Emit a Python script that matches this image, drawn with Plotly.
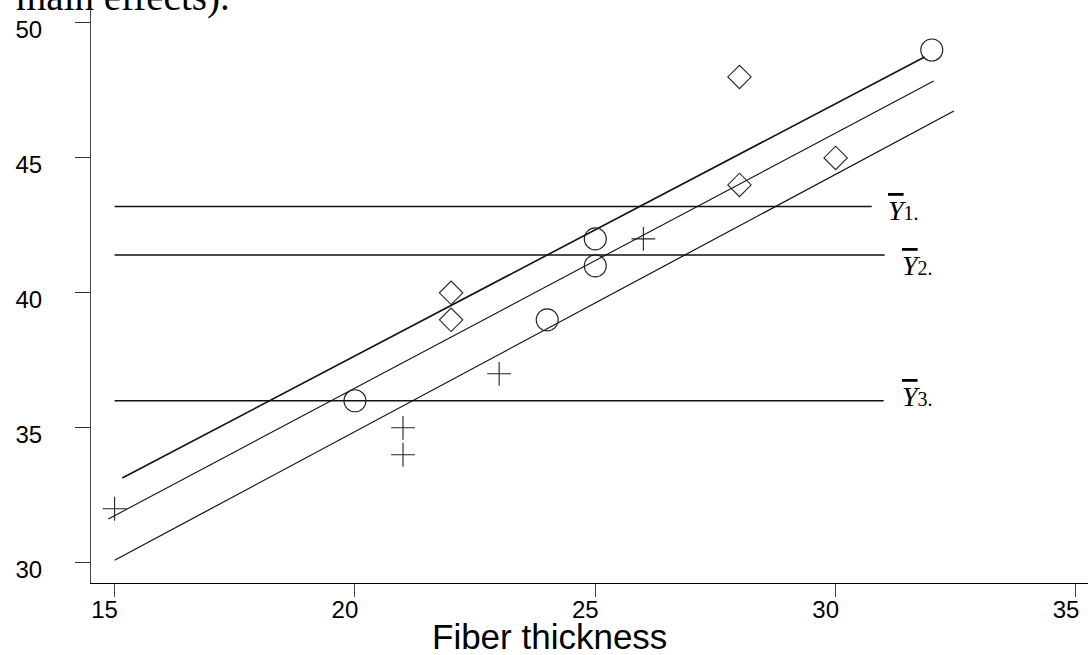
import plotly.graph_objects as go

# ---- data ----
circ_x = [20, 25, 24, 25, 32]
circ_y = [36, 41, 39, 42, 49]
diam_x = [22, 28, 22, 30, 28]
diam_y = [40, 48, 39, 45, 44]
plus_x = [21, 23, 26, 21, 15]
plus_y = [35, 37, 42, 34, 32]

mean_vals = [43.2, 41.4, 36.0]
mean_x_start = [15, 15, 15]
mean_x_end = [30.75, 31.02, 31.0]
mean_labels = ["1.", "2.", "3."]

fit_x = [[15.16, 31.85], [14.87, 32.04], [15.0, 32.46]]
fit_y = [[33.14, 48.74], [31.62, 47.85], [30.09, 46.74]]

x_ticks = [15, 20, 25, 30, 35]
y_ticks = [30, 35, 40, 45, 50]

fig = go.Figure()

# mean lines
for xs, xe, v in zip(mean_x_start, mean_x_end, mean_vals):
    fig.add_trace(go.Scatter(x=[xs, xe], y=[v, v], mode="lines",
                             line=dict(color="#111", width=1.6),
                             showlegend=False, hoverinfo="skip"))

# fitted lines
for fx, fy, w in zip(fit_x, fit_y, [1.6, 1.1, 1.2]):
    fig.add_trace(go.Scatter(x=fx, y=fy, mode="lines",
                             line=dict(color="#111", width=w),
                             showlegend=False, hoverinfo="skip"))

fig.add_trace(go.Scatter(x=circ_x, y=circ_y, mode="markers",
                         marker=dict(symbol="circle-open", size=22,
                                     color="#222", line=dict(width=1.1, color="#222")),
                         showlegend=False))
fig.add_trace(go.Scatter(x=diam_x, y=diam_y, mode="markers",
                         marker=dict(symbol="diamond-open", size=18,
                                     color="#222", line=dict(width=1.1, color="#222")),
                         showlegend=False))
fig.add_trace(go.Scatter(x=plus_x, y=plus_y, mode="markers",
                         marker=dict(symbol="cross-thin-open", size=17,
                                     color="#222", line=dict(width=1.1, color="#222")),
                         showlegend=False))

# mean labels
label_x = [31.05, 31.34, 31.34]
label_y = [42.41, 40.37, 35.52]
for lx, ly, lab in zip(label_x, label_y, mean_labels):
    fig.add_annotation(
        x=lx, y=ly, xref="x", yref="y", xanchor="left", yanchor="bottom",
        showarrow=False,
        text="<span style='text-decoration:overline'><i>Y</i></span>"
             "<span style='font-size:20px'>" + lab + "</span>",
        font=dict(family="Liberation Serif, Times New Roman, serif", size=28, color="black"),
    )

# x axis title
fig.add_annotation(x=24.05, y=-0.128, xref="x", yref="paper",
                   xanchor="center", yanchor="bottom", showarrow=False,
                   text="Fiber thickness",
                   font=dict(family="Liberation Sans, Arial, sans-serif", size=35, color="black"))

# cut-off caption text at top
fig.add_annotation(x=(232 - 91) / 997, y=1 - 21 / 583, xref="paper", yref="paper",
                   xanchor="right", yanchor="bottom", showarrow=False,
                   text="main effects).",
                   font=dict(family="Liberation Serif, Times New Roman, serif", size=39, color="black"))

fig.update_layout(
    width=1088, height=655,
    margin=dict(l=91, r=0, t=0, b=72),
    paper_bgcolor="white", plot_bgcolor="white",
    showlegend=False,
    xaxis=dict(range=[14.509, 35.25], tickvals=x_ticks, ticks="outside",
               ticklen=13, tickcolor="#444", tickwidth=1,
               showline=True, linecolor="black", linewidth=1,
               showgrid=False, zeroline=False,
               tickfont=dict(family="Liberation Sans, Arial, sans-serif", size=24, color="black"),
               ticklabelshift=-10, ticklabelstandoff=-8),
    yaxis=dict(range=[29.248, 50.852], tickvals=y_ticks, ticks="outside",
               ticklen=15, tickcolor="#333", tickwidth=1,
               showline=True, linecolor="#444", linewidth=1,
               showgrid=False, zeroline=False,
               tickfont=dict(family="Liberation Sans, Arial, sans-serif", size=24, color="black"),
               ticklabelshift=7, ticklabelstandoff=28),
)

fig.write_html("out.html", config={"displayModeBar": False},
               post_script="document.body.style.margin='0px';")
